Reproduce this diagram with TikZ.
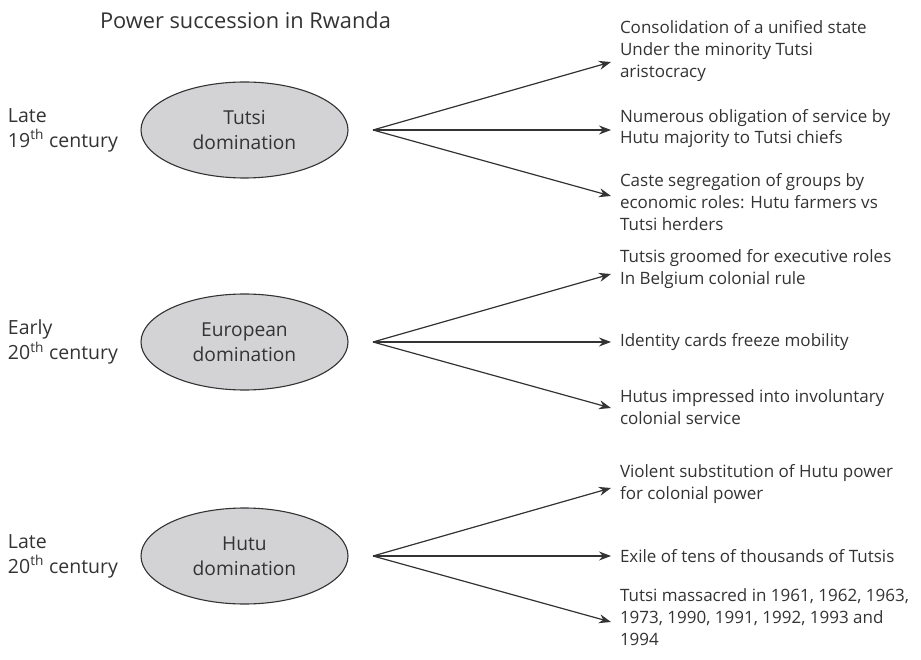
\documentclass[tikz,border=0pt]{standalone}
\usepackage{fontspec}
\setmainfont{Open Sans}
\usetikzlibrary{arrows.meta,shapes.geometric}
\definecolor{ink}{HTML}{333333}
\definecolor{ovalfill}{HTML}{D3D3D5}
\begin{document}
\begin{tikzpicture}[x=1pt,y=-1pt,
  every node/.style={text=ink,inner sep=0pt,outer sep=0pt},
  era/.style={ellipse,draw=ink,fill=ovalfill,line width=1.1pt,
    minimum width=207pt,minimum height=96pt,align=center,
    font=\fontsize{19.2}{25}\selectfont},
  period/.style={anchor=west,align=left,font=\fontsize{19.5}{25}\selectfont},
  effect/.style={anchor=west,align=left,font=\fontsize{17}{21.8}\selectfont},
  fan/.style={draw=ink,line width=1.2pt,-{Stealth[length=12pt,width=9pt]}}]
\useasboundingbox (0,0) rectangle (921,660);

\node[anchor=west,font=\fontsize{21.8}{26}\selectfont] (title) at (100,20) {Power succession in Rwanda};

% Eras
\node[era] (tutsi) at (244.5,130) {Tutsi\\domination};
\node[era] (euro)  at (244.5,342) {European\\domination};
\node[era] (hutu)  at (244.5,556) {Hutu\\domination};

\node[period] (p1) at (8,130) {Late\\19\textsuperscript{th} century};
\node[period] (p2) at (8,342) {Early\\20\textsuperscript{th} century};
\node[period] (p3) at (8,556) {Late\\20\textsuperscript{th} century};

% Consequences
\node[effect] (c11) at (620,51)  {Consolidation of a unified state\\Under the minority Tutsi\\aristocracy};
\node[effect] (c12) at (620,128.5) {Numerous obligation of service by\\Hutu majority to Tutsi chiefs};
\node[effect] (c13) at (620,202) {Caste segregation of groups by\\economic roles: Hutu farmers vs\\Tutsi herders};

\node[effect] (c21) at (620,269) {Tutsis groomed for executive roles\\In Belgium colonial rule};
\node[effect] (c22) at (620,342) {Identity cards freeze mobility};
\node[effect] (c23) at (620,407.5) {Hutus impressed into involuntary\\colonial service};

\node[effect] (c31) at (620,484) {Violent substitution of Hutu power\\for colonial power};
\node[effect] (c32) at (620,556) {Exile of tens of thousands of Tutsis};
\node[effect] (c33) at (620,617) {Tutsi massacred in 1961, 1962, 1963,\\1973, 1990, 1991, 1992, 1993 and\\1994};

% Fan origins and arrow ends
\coordinate (o1) at (373,130);
\coordinate (o2) at (373,342);
\coordinate (o3) at (373,556);
\foreach \g/\y in {1/130,2/342,3/556}{
  \coordinate (e\g a) at (611,\y-68);
  \coordinate (e\g b) at (611,\y);
  \coordinate (e\g c) at (611,\y+66);
}

\foreach \g in {1,2,3}{
  \draw[fan] (o\g) -- (e\g a);
  \draw[fan] (o\g) -- (e\g b);
  \draw[fan] (o\g) -- (e\g c);
}
\end{tikzpicture}
\end{document}
